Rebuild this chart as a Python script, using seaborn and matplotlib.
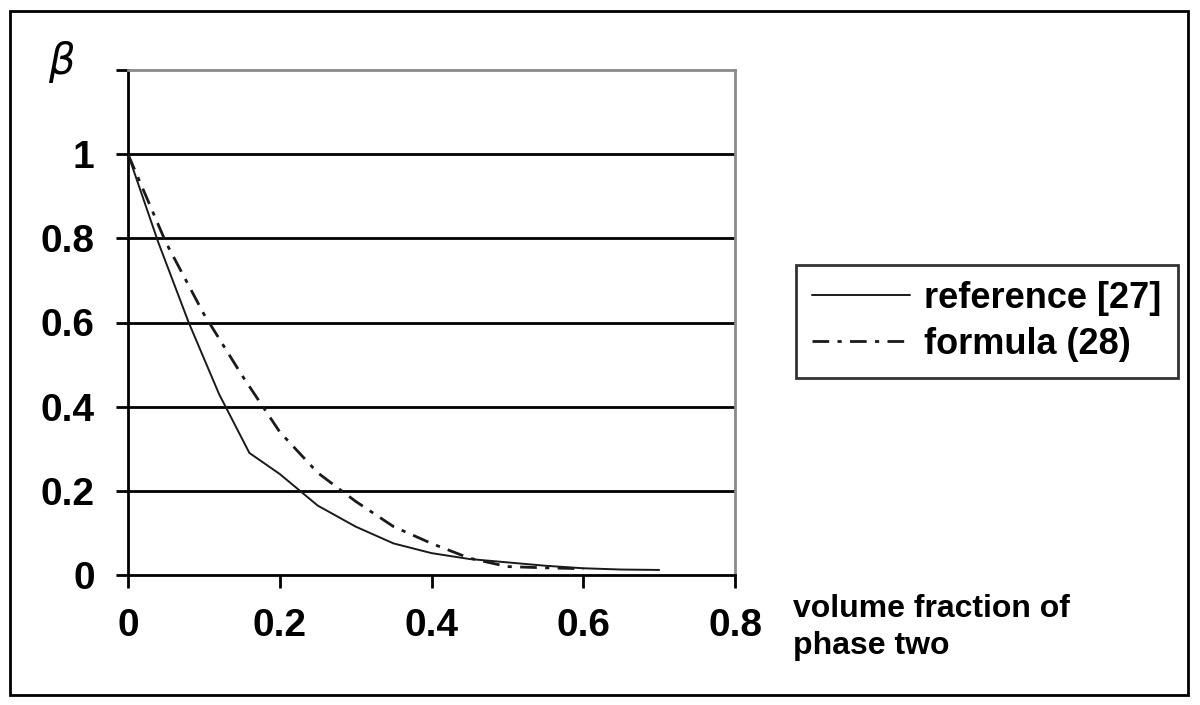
import pandas as pd
import matplotlib.pyplot as plt
import seaborn as sns

# values
x_ref = [0, 0.04, 0.08, 0.12, 0.16, 0.2, 0.25, 0.3, 0.35, 0.4, 0.45, 0.5, 0.55, 0.6, 0.65, 0.7]
beta_ref = [1.0, 0.79, 0.6, 0.43, 0.29, 0.24, 0.165, 0.115, 0.075, 0.052, 0.038, 0.03, 0.022, 0.016, 0.013, 0.012]

x_formula = [0, 0.05, 0.1, 0.15, 0.2, 0.25, 0.3, 0.35, 0.4, 0.45, 0.5, 0.55, 0.6]
beta_formula = [1.0, 0.79, 0.62, 0.475, 0.34, 0.243, 0.175, 0.115, 0.075, 0.04, 0.02, 0.017, 0.015]

x_ticks = [0, 0.2, 0.4, 0.6, 0.8]
x_labels = ['0', '0.2', '0.4', '0.6', '0.8']
y_ticks = [0, 0.2, 0.4, 0.6, 0.8, 1.0, 1.2]
y_labels = ['0', '0.2', '0.4', '0.6', '0.8', '1', '']
grid_y = [0.2, 0.4, 0.6, 0.8, 1.0]

ref = pd.DataFrame({'x': x_ref, 'beta': beta_ref})
form = pd.DataFrame({'x': x_formula, 'beta': beta_formula})

sns.set_style('white')
plt.rcParams['font.family'] = ['Liberation Sans', 'DejaVu Sans']
plt.rcParams['text.color'] = 'black'
plt.rcParams['xtick.color'] = 'black'
plt.rcParams['ytick.color'] = 'black'
plt.rcParams['axes.labelcolor'] = 'black'

fig = plt.figure(figsize=(12, 7.05), dpi=100)
ax = fig.add_axes([128 / 1200, 1 - 575 / 705, (735 - 128) / 1200, (575 - 70) / 705])

ax.hlines(grid_y, 0, 0.8, color='black', lw=2, zorder=1)

sns.lineplot(data=ref, x='x', y='beta', ax=ax, color='#1a1a1a', lw=1.4,
             label='reference [27]', zorder=3)
sns.lineplot(data=form, x='x', y='beta', ax=ax, color='#1a1a1a', lw=2.0,
             linestyle=(0, (6, 3, 1.5, 3)), label='formula (28)', zorder=3)

ax.set_xlim(0, 0.8)
ax.set_ylim(0, 1.2)
ax.set_xticks(x_ticks)
ax.set_xticklabels(x_labels, fontsize=28, fontweight='bold')
ax.set_yticks(y_ticks)
ax.set_yticklabels(y_labels, fontsize=28, fontweight='bold')
ax.tick_params(direction='out', length=9, width=2, colors='black', pad=15,
               bottom=True, left=True)
ax.set_xlabel('')
ax.set_ylabel('')

for side in ['left', 'bottom']:
    ax.spines[side].set_color('black')
    ax.spines[side].set_linewidth(2)
for side in ['top', 'right']:
    ax.spines[side].set_color('#8a8a8a')
    ax.spines[side].set_linewidth(2)

leg = ax.legend(loc='center', bbox_to_anchor=(796 / 1200, 1 - 380 / 705, 382 / 1200, 117 / 705),
                bbox_transform=fig.transFigure, frameon=True, fancybox=False,
                prop={'size': 26, 'weight': 'bold'}, handlelength=2.7,
                handletextpad=0.4, borderaxespad=0, borderpad=0.45, labelspacing=0.3)
leg.get_frame().set_edgecolor('black')
leg.get_frame().set_linewidth(2)

fig.text(62 / 1200, 1 - 62 / 705, r'$\beta$', fontsize=30, ha='center', va='center')
fig.text(793 / 1200, 1 - 594 / 705, 'volume fraction of\nphase two', fontsize=23,
         fontweight='bold', ha='left', va='top', linespacing=1.3)

# outer frame
fig.add_artist(plt.Rectangle((10 / 1200, 1 - 695 / 705), 1178 / 1200, 684 / 705,
                             transform=fig.transFigure, fill=False, ec='black', lw=2))

plt.savefig('out.png', dpi=100)
